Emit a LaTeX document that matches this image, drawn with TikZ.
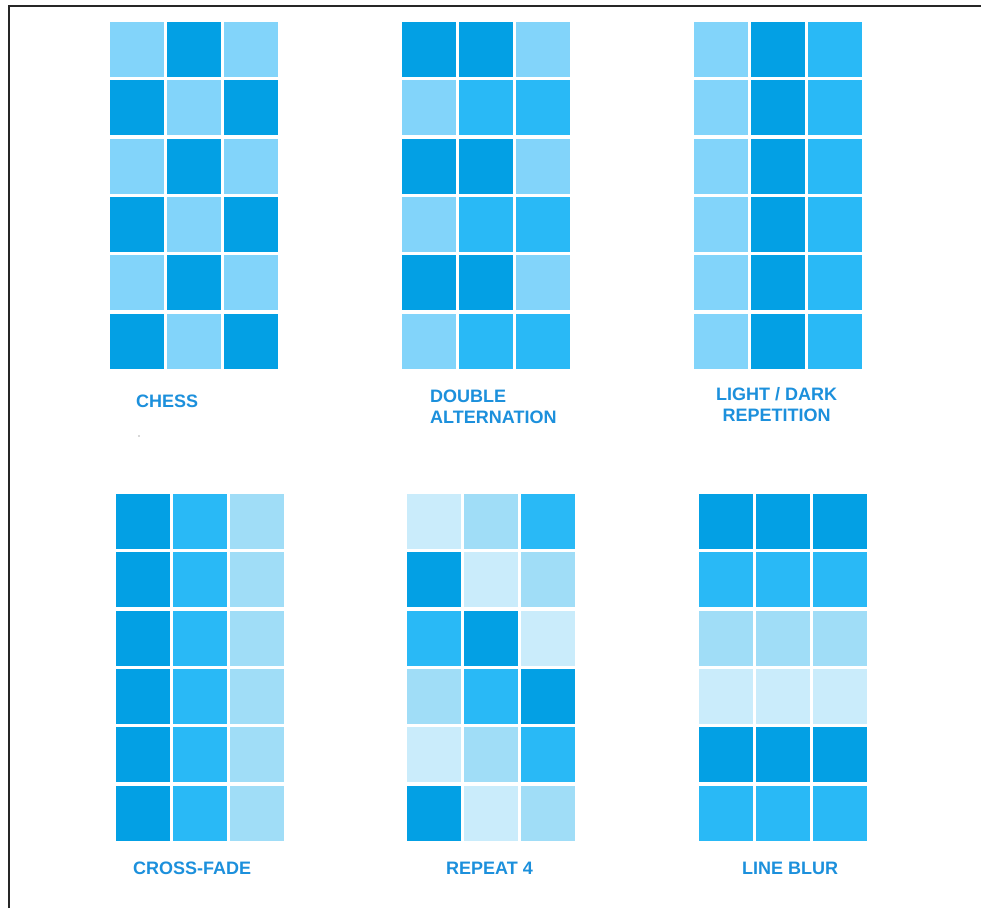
\documentclass[tikz,border=0pt]{standalone}
\usepackage{fontspec}
\setmainfont{Liberation Sans}
\definecolor{cD}{RGB}{3,160,228}
\definecolor{cM}{RGB}{41,185,246}
\definecolor{cL}{RGB}{130,212,250}
\definecolor{cP}{RGB}{160,221,247}
\definecolor{cV}{RGB}{202,236,251}
\definecolor{labc}{RGB}{28,144,220}
\newcommand\cellgrid[3]{%
  \foreach \r/\a/\b/\c in {#3} {%
    \fill[\a] ({#1},{#2+\r*58.3}) rectangle ++(54,55);
    \fill[\b] ({#1+57},{#2+\r*58.3}) rectangle ++(54,55);
    \fill[\c] ({#1+114},{#2+\r*58.3}) rectangle ++(54,55);
  }}
\begin{document}
\begin{tikzpicture}[x=1pt,y=-1pt,
  lab/.style={font=\fontsize{18}{21}\selectfont\bfseries, text=labc, inner sep=0pt, anchor=base west}]
\useasboundingbox (0,0) rectangle (981,908);
\fill[white] (0,0) rectangle (981,908);
\draw[line width=2pt, black!85] (9,908) -- (9,6) -- (981,6);
% grids
\cellgrid{110}{22}{0/cL/cD/cL,1/cD/cL/cD,2/cL/cD/cL,3/cD/cL/cD,4/cL/cD/cL,5/cD/cL/cD}
\cellgrid{402}{22}{0/cD/cD/cL,1/cL/cM/cM,2/cD/cD/cL,3/cL/cM/cM,4/cD/cD/cL,5/cL/cM/cM}
\cellgrid{694}{22}{0/cL/cD/cM,1/cL/cD/cM,2/cL/cD/cM,3/cL/cD/cM,4/cL/cD/cM,5/cL/cD/cM}
\cellgrid{116}{494}{0/cD/cM/cP,1/cD/cM/cP,2/cD/cM/cP,3/cD/cM/cP,4/cD/cM/cP,5/cD/cM/cP}
\cellgrid{407}{494}{0/cV/cP/cM,1/cD/cV/cP,2/cM/cD/cV,3/cP/cM/cD,4/cV/cP/cM,5/cD/cV/cP}
\cellgrid{699}{494}{0/cD/cD/cD,1/cM/cM/cM,2/cP/cP/cP,3/cV/cV/cV,4/cD/cD/cD,5/cM/cM/cM}
% labels
\node[lab] (chess) at (136,407.5) {CHESS};
\node[lab] (dbl1) at (430,402.5) {DOUBLE};
\node[lab] (dbl2) at (430,423.5) {ALTERNATION};
\node[lab, anchor=base] (ld1) at (776.5,400.5) {LIGHT / DARK};
\node[lab, anchor=base] (ld2) at (776.5,421.5) {REPETITION};
\node[lab] (cf) at (133,874.5) {CROSS-FADE};
\node[lab] (rp) at (446,874.5) {REPEAT 4};
\node[lab] (lb) at (742,874.5) {LINE BLUR};
\fill[gray!60] (139,436) circle (0.9);
\end{tikzpicture}
\end{document}
